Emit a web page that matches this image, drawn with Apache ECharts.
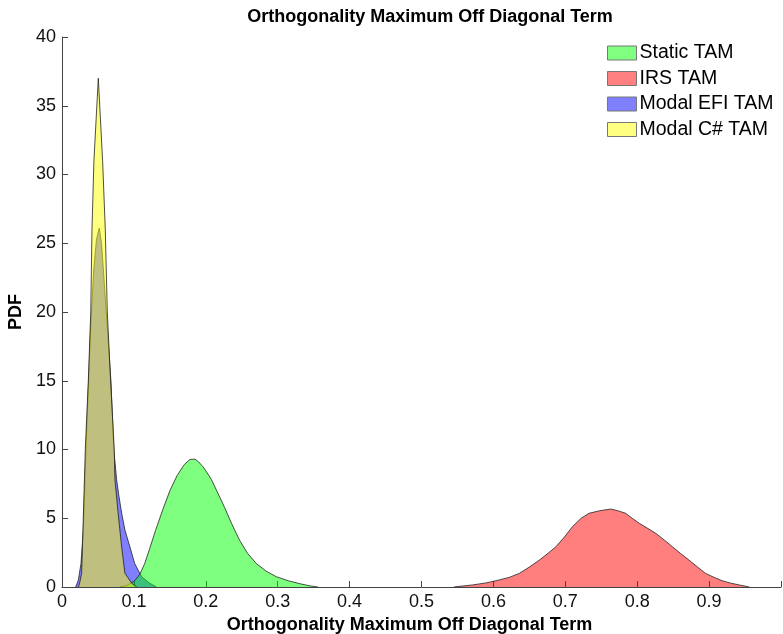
<!DOCTYPE html>
<html>
<head>
<meta charset="utf-8">
<script src="https://cdn.jsdelivr.net/npm/echarts@6/dist/echarts.min.js"></script>
<style>
html,body{margin:0;padding:0;background:#fff;}
#c{width:783px;height:634px;}
</style>
</head>
<body>
<div id="c"></div>
<script>
var titleText = 'Orthogonality Maximum Off Diagonal Term';
var xName = 'Orthogonality Maximum Off Diagonal Term';
var yName = 'PDF';
var seriesNames = ['Static TAM', 'IRS TAM', 'Modal EFI TAM', 'Modal C# TAM'];
var xTickLabels = ['0','0.1','0.2','0.3','0.4','0.5','0.6','0.7','0.8','0.9',''];
var yTickLabels = ['0','5','10','15','20','25','30','35','40'];

var staticTAM = [
  [0.080,0],[0.090,0.1],[0.100,0.4],[0.108,0.9],[0.115,1.7],[0.122,2.8],[0.130,4.1],
  [0.140,5.6],[0.150,7.0],[0.160,8.1],[0.170,8.9],[0.178,9.28],[0.185,9.3],[0.190,9.1],
  [0.196,8.75],[0.202,8.3],[0.208,7.8],[0.217,6.8],[0.226,5.8],[0.236,4.6],[0.247,3.4],
  [0.258,2.45],[0.270,1.72],[0.284,1.15],[0.298,0.75],[0.315,0.45],[0.330,0.25],
  [0.345,0.08],[0.356,0]
];
var irsTAM = [
  [0.545,0],[0.571,0.15],[0.590,0.3],[0.608,0.51],[0.622,0.7],[0.636,0.99],[0.650,1.45],
  [0.664,1.96],[0.676,2.45],[0.687,2.93],[0.699,3.65],[0.710,4.39],[0.722,5.0],[0.733,5.36],
  [0.748,5.55],[0.763,5.67],[0.773,5.55],[0.784,5.36],[0.793,5.0],[0.803,4.63],[0.815,4.25],
  [0.826,3.9],[0.838,3.4],[0.849,2.93],[0.860,2.45],[0.872,1.96],[0.884,1.45],[0.895,0.99],
  [0.907,0.7],[0.918,0.46],[0.930,0.28],[0.942,0.15],[0.956,0]
];
var efiTAM = [
  [0.019,0],[0.0227,0.5],[0.0264,1.7],[0.0296,4.1],[0.032,7.8],[0.034,11],[0.037,15],
  [0.040,19],[0.044,23],[0.048,25.3],[0.0518,26.1],[0.055,25],[0.059,22],[0.0635,18.5],
  [0.068,15],[0.072,10],[0.076,7.8],[0.0792,6.6],[0.083,5.36],[0.0875,4.15],[0.0944,2.93],
  [0.101,1.72],[0.1107,0.75],[0.122,0.27],[0.1315,0]
];
var csharpTAM = [
  [0.023,0],[0.025,0.4],[0.0273,1],[0.0296,5],[0.0324,10],[0.0366,15],[0.040,20],
  [0.0417,26],[0.0444,31],[0.0505,37],[0.0565,31],[0.0602,26],[0.063,20],[0.0676,15],
  [0.0727,10],[0.0736,7.8],[0.078,5.4],[0.083,2.9],[0.0875,1.0],[0.097,0.27],[0.104,0]
];

var FONT = 'Liberation Sans, Arial, sans-serif';
function mk(name, data, rgb, legendColor, z) {
  return {
    name: name, type: 'line', data: data, smooth: false, showSymbol: false, symbol: 'none',
    z: z, color: legendColor,
    lineStyle: { color: '#222', width: 0.8 },
    areaStyle: { color: 'rgba(' + rgb + ',0.5)', opacity: 1 },
    itemStyle: { color: legendColor, borderColor: '#777', borderWidth: 1 },
    emphasis: { disabled: true }, silent: true
  };
}

var chart = echarts.init(document.getElementById('c'), null, { renderer: 'canvas' });
chart.setOption({
  animation: false,
  backgroundColor: '#fff',
  title: {
    text: titleText, left: 425, top: 3, textAlign: 'center',
    textStyle: { fontFamily: FONT, fontSize: 18, fontWeight: 'bold', color: '#000' }
  },
  legend: {
    data: seriesNames, orient: 'vertical', left: 607, top: 43, padding: 0,
    icon: 'rect', itemWidth: 29, itemHeight: 14, itemGap: 5.5,
    itemStyle: { borderColor: '#777', borderWidth: 1 },
    textStyle: { fontFamily: FONT, fontSize: 19.5, color: '#000', padding: [0,0,0,-2] },
    selectedMode: false
  },
  grid: { left: 62, right: 2, top: 37, bottom: 47, containLabel: false, outerBoundsMode: 'none' },
  xAxis: {
    type: 'value', min: 0, max: 1, interval: 0.1,
    name: xName, nameLocation: 'middle', nameGap: 25,
    nameTextStyle: { fontFamily: FONT, fontSize: 18, fontWeight: 'bold', color: '#000', padding: [0, 24, 0, 0] },
    axisLine: { show: true, lineStyle: { color: '#444', width: 1 } },
    axisTick: { show: true, inside: true, length: 6, lineStyle: { color: '#444' } },
    axisLabel: { fontFamily: FONT, fontSize: 18, color: '#111', margin: 6,
      formatter: function (v, i) { return xTickLabels[i] !== undefined ? xTickLabels[i] : ''; } },
    splitLine: { show: false }
  },
  yAxis: {
    type: 'value', min: 0, max: 40, interval: 5,
    name: yName, nameLocation: 'middle', nameGap: 34, nameRotate: 90,
    nameTextStyle: { fontFamily: FONT, fontSize: 18, fontWeight: 'bold', color: '#000' },
    axisLine: { show: true, lineStyle: { color: '#444', width: 1 } },
    axisTick: { show: true, inside: true, length: 6, lineStyle: { color: '#444' } },
    axisLabel: { fontFamily: FONT, fontSize: 18, color: '#111', margin: 6,
      formatter: function (v, i) { return yTickLabels[i] !== undefined ? yTickLabels[i] : ''; } },
    splitLine: { show: false }
  },
  series: [
    mk(seriesNames[0], staticTAM, '0,255,0', '#80FF80', 3),
    mk(seriesNames[1], irsTAM, '255,0,0', '#FF8080', 3),
    mk(seriesNames[2], efiTAM, '0,0,255', '#8080FF', 2),
    mk(seriesNames[3], csharpTAM, '255,255,0', '#FFFF80', 4)
  ]
});
</script>
</body>
</html>
